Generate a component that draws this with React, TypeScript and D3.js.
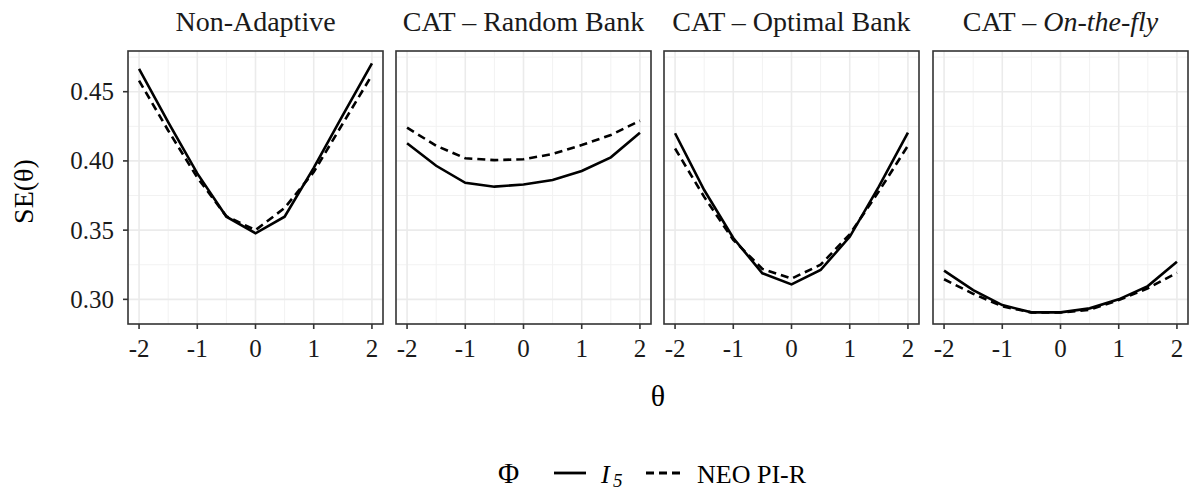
import React from 'react';
import * as d3 from 'd3';

const width = 1193;
const height = 495;
const font = '"Liberation Serif", "Times New Roman", serif';

// panel layout
const panelLeft = [128, 396, 664, 933];
const panelW = 255;
const panelTop = 51;
const panelBottom = 324;

const theta = [-2, -1.5, -1, -0.5, 0, 0.5, 1, 1.5, 2];
const xTicks = [-2, -1, 0, 1, 2];
const xMinor = [-1.5, -0.5, 0.5, 1.5];
const yTicks = [0.3, 0.35, 0.4, 0.45];
const yMinor = [0.325, 0.375, 0.425, 0.475];

const panelTitles = ['Non-Adaptive', 'CAT – Random Bank', 'CAT – Optimal Bank', 'CAT – '];

// SE(theta) for I5 (solid) and NEO PI-R (dashed), one array per panel
const i5NonAdaptive = [0.4664, 0.428, 0.391, 0.3597, 0.3477, 0.3597, 0.395, 0.433, 0.4705];
const neoNonAdaptive = [0.458, 0.422, 0.388, 0.360, 0.350, 0.366, 0.392, 0.427, 0.462];
const i5Random = [0.4127, 0.3965, 0.3842, 0.3814, 0.383, 0.3862, 0.3927, 0.4026, 0.4204];
const neoRandom = [0.424, 0.411, 0.4019, 0.4006, 0.4012, 0.405, 0.4115, 0.4187, 0.429];
const i5Optimal = [0.420, 0.379, 0.3443, 0.3188, 0.3108, 0.3212, 0.3452, 0.3814, 0.4204];
const neoOptimal = [0.409, 0.374, 0.343, 0.322, 0.315, 0.325, 0.347, 0.378, 0.411];
const i5Fly = [0.3207, 0.3067, 0.2959, 0.2906, 0.2906, 0.2935, 0.300, 0.3096, 0.3272];
const neoFly = [0.3145, 0.304, 0.295, 0.2905, 0.2905, 0.2925, 0.2995, 0.308, 0.3192];

const series = [
  [i5NonAdaptive, neoNonAdaptive],
  [i5Random, neoRandom],
  [i5Optimal, neoOptimal],
  [i5Fly, neoFly],
];

const yScale = d3.scaleLinear().domain([0.2822, 0.4794]).range([panelBottom, panelTop]);

const Panel = ({ idx }: { idx: number }) => {
  const x0 = panelLeft[idx];
  const xScale = d3.scaleLinear().domain([-2.19, 2.19]).range([x0, x0 + panelW]);
  const line = d3.line<number>().x((_, i) => xScale(theta[i])).y(d => yScale(d));
  const [solid, dashed] = series[idx];
  const cx = x0 + panelW / 2;
  return (
    <g>
      {/* grid */}
      {yMinor.map(v => (
        <line key={'ym' + v} x1={x0} x2={x0 + panelW} y1={yScale(v)} y2={yScale(v)} stroke="#f2f2f2" strokeWidth={1} />
      ))}
      {xMinor.map(v => (
        <line key={'xm' + v} x1={xScale(v)} x2={xScale(v)} y1={panelTop} y2={panelBottom} stroke="#f2f2f2" strokeWidth={1} />
      ))}
      {yTicks.map(v => (
        <line key={'y' + v} x1={x0} x2={x0 + panelW} y1={yScale(v)} y2={yScale(v)} stroke="#ebebeb" strokeWidth={1.6} />
      ))}
      {xTicks.map(v => (
        <line key={'x' + v} x1={xScale(v)} x2={xScale(v)} y1={panelTop} y2={panelBottom} stroke="#ebebeb" strokeWidth={1.6} />
      ))}
      <path d={line(dashed) || ''} fill="none" stroke="#000" strokeWidth={2.6} strokeDasharray="8,5" />
      <path d={line(solid) || ''} fill="none" stroke="#000" strokeWidth={2.6} />
      <rect x={x0} y={panelTop} width={panelW} height={panelBottom - panelTop} fill="none" stroke="#333" strokeWidth={1.6} />
      {/* x axis */}
      {xTicks.map(v => (
        <g key={'xt' + v}>
          <line x1={xScale(v)} x2={xScale(v)} y1={panelBottom} y2={panelBottom + 5} stroke="#333" strokeWidth={1.6} />
          <text x={xScale(v)} y={357} textAnchor="middle" fontSize={25} fill="#1a1a1a">{v < 0 ? '-' + Math.abs(v) : v}</text>
        </g>
      ))}
      <text x={cx} y={31} textAnchor="middle" fontSize={28} fill="#1a1a1a">
        {panelTitles[idx]}
        {idx === 3 && <tspan fontStyle="italic">On-the-fly</tspan>}
      </text>
    </g>
  );
};

export default function App() {
  const x0 = panelLeft[0];
  return (
    <svg width={width} height={height} style={{ display: 'block', position: 'absolute', left: 0, top: 0 }} fontFamily={font}>
      <rect width={width} height={height} fill="#fff" />
      {panelLeft.map((_, i) => <Panel key={i} idx={i} />)}
      {yTicks.map(v => (
        <g key={'yt' + v}>
          <line x1={x0 - 5} x2={x0} y1={yScale(v)} y2={yScale(v)} stroke="#333" strokeWidth={1.6} />
          <text x={114} y={yScale(v)} dy="0.34em" textAnchor="end" fontSize={25} fill="#1a1a1a">{d3.format('.2f')(v)}</text>
        </g>
      ))}
      <text transform={`translate(33, ${(panelTop + panelBottom) / 2 + 4}) rotate(-90)`} textAnchor="middle" fontSize={28} fill="#000">SE(θ)</text>
      <text x={(panelLeft[0] + panelLeft[3] + panelW) / 2} y={406} textAnchor="middle" fontSize={30} fill="#000">θ</text>
      {/* legend */}
      <g>
        <text x={498} y={483} fontSize={29} fill="#000">Φ</text>
        <line x1={554} x2={586} y1={473} y2={473} stroke="#000" strokeWidth={2.8} />
        <text x={601} y={483} fontSize={26} fontStyle="italic" fill="#000">I</text>
        <text x={613} y={487} fontSize={19} fontStyle="italic" fill="#000">5</text>
        <line x1={646} x2={680} y1={473} y2={473} stroke="#000" strokeWidth={2.8} strokeDasharray="8,5" />
        <text x={697} y={483} fontSize={26} fill="#000">NEO PI-R</text>
      </g>
    </svg>
  );
}
